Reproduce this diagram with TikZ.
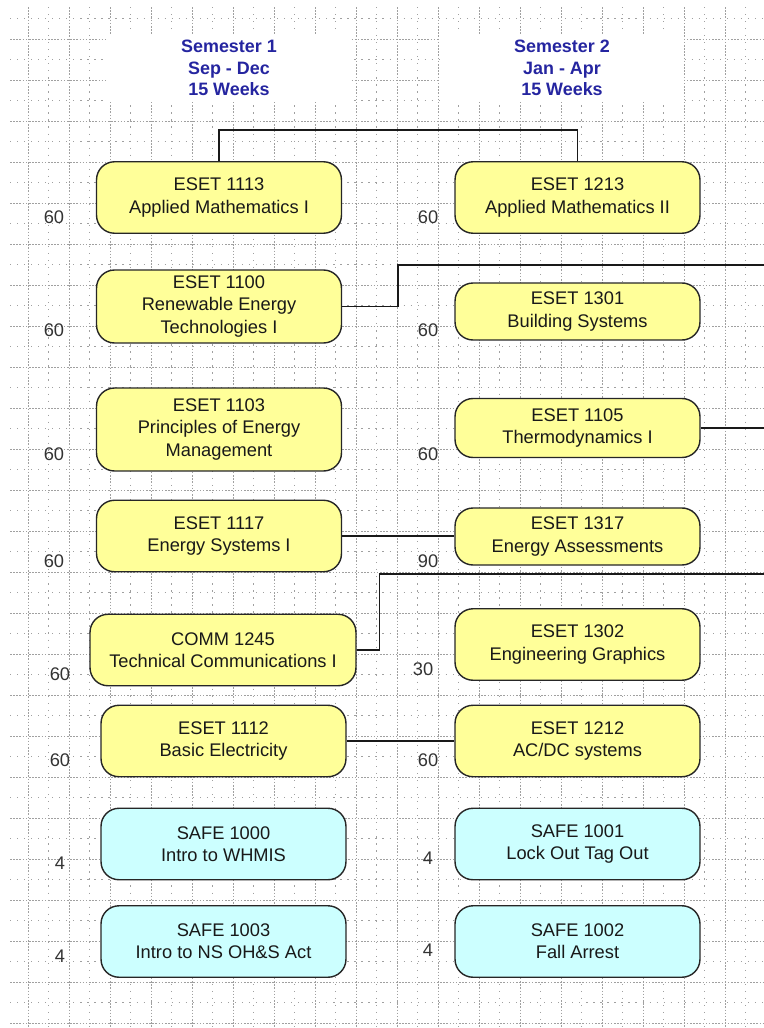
\documentclass[tikz,border=0pt]{standalone}
\usepackage{fontspec}
\setmainfont{Liberation Sans}
\usepackage{xcolor}
\usepackage{tikz}

\begin{document}
\begin{tikzpicture}[x=0.02cm, y=-0.02cm]
  % Colour definitions
  \definecolor{CourseFill}{HTML}{FFFF99}   % pale yellow, regular courses
  \definecolor{SafeFill}{HTML}{CCFFFF}     % pale cyan, safety courses
  \definecolor{BoxBdr}{HTML}{262626}
  \definecolor{SemBlue}{HTML}{2525A0}
  \definecolor{GridGray}{HTML}{A0A0A0}

  \tikzstyle{course} = [draw=BoxBdr, fill=CourseFill, rounded corners=0.36cm,
    minimum width=4.9cm, minimum height=1.43cm, align=center, inner sep=0pt,
    text=black!90, font=\fontsize{10.4}{12.6}\selectfont, line width=0.8pt]
  \tikzstyle{safety} = [course, fill=SafeFill]
  \tikzstyle{hours} = [font=\fontsize{10.4}{12.6}\selectfont, text=black!80]
  \tikzstyle{semester} = [fill=white, minimum width=4.9cm, minimum height=1.14cm,
    align=center, font=\fontsize{10.2}{12.2}\selectfont\bfseries, text=SemBlue]
  \tikzstyle{link} = [draw=black!90, line width=0.9pt]
  \tikzstyle{gridmajor} = [GridGray, line width=0.5pt, dash pattern=on 0.9pt off 0.9pt]
  \tikzstyle{gridminor} = [GridGray, line width=0.5pt, dash pattern=on 0.7pt off 3.3pt]

  \useasboundingbox (0,0) rectangle (764,1028);

  % Background grid (drawn first, behind everything)
  \foreach \gk in {1,...,18}
    \draw[gridminor] ({7.5+41*\gk},7) -- ({7.5+41*\gk},1028);
  \foreach \gk in {0,...,24}
    \draw[gridminor] (10,{18.5+41*\gk}) -- (764,{18.5+41*\gk});
  \foreach \gk in {0,...,18}
    \draw[gridmajor] ({28+41*\gk},7) -- ({28+41*\gk},1028);
  \foreach \gk in {0,...,24}
    \draw[gridmajor] (10,{39+41*\gk}) -- (764,{39+41*\gk});

  % Semester headings
  \node[semester] (sem1) at (229,68) {Semester 1\\Sep - Dec\\15 Weeks};
  \node[semester] (sem2) at (562,68) {Semester 2\\Jan - Apr\\15 Weeks};

  % Semester 1 courses
  \node[course] (c1113) at (219,197.5) {ESET 1113\\Applied Mathematics I};
  \node[course, minimum height=1.46cm] (c1100) at (219,306.5)
    {ESET 1100\\Renewable Energy\\Technologies I};
  \node[course, minimum height=1.66cm] (c1103) at (219,429.5)
    {ESET 1103\\Principles of Energy\\Management};
  \node[course] (c1117) at (219,536) {ESET 1117\\Energy Systems I};
  \node[course, minimum width=5.32cm] (c1245) at (223,650)
    {COMM 1245\\Technical Communications I};
  \node[course] (c1112) at (223.5,741) {ESET 1112\\Basic Electricity};
  \node[safety] (s1000) at (223.5,844) {SAFE 1000\\Intro to WHMIS};
  \node[safety] (s1003) at (223.5,941.5) {SAFE 1003\\Intro to NS OH\&S Act};

  % Semester 2 courses
  \node[course] (c1213) at (577.5,197.5) {ESET 1213\\Applied Mathematics II};
  \node[course, minimum height=1.14cm] (c1301) at (577.5,311.5) {ESET 1301\\Building Systems};
  \node[course, minimum height=1.18cm] (c1105) at (577.5,428) {ESET 1105\\Thermodynamics I};
  \node[course, minimum height=1.14cm] (c1317) at (577.5,536.5) {ESET 1317\\Energy Assessments};
  \node[course] (c1302) at (577.5,644.5) {ESET 1302\\Engineering Graphics};
  \node[course] (c1212) at (577.5,741) {ESET 1212\\AC/DC systems};
  \node[safety] (s1001) at (577.5,844) {SAFE 1001\\Lock Out Tag Out};
  \node[safety] (s1002) at (577.5,941.5) {SAFE 1002\\Fall Arrest};

  % Contact hours
  \node[hours] (h1113) at (54,217) {60};
  \node[hours] (h1100) at (54,330) {60};
  \node[hours] (h1103) at (54,454) {60};
  \node[hours] (h1117) at (54,561) {60};
  \node[hours] (h1245) at (60,674) {60};
  \node[hours] (h1112) at (60,760) {60};
  \node[hours] (h1000) at (60,863) {4};
  \node[hours] (h1003) at (60,956) {4};
  \node[hours] (h1213) at (428,217) {60};
  \node[hours] (h1301) at (428,330) {60};
  \node[hours] (h1105) at (428,454) {60};
  \node[hours] (h1317) at (428,561) {90};
  \node[hours] (h1302) at (423,669) {30};
  \node[hours] (h1212) at (428,760) {60};
  \node[hours] (h1001) at (428,858) {4};
  \node[hours] (h1002) at (428,950) {4};

  % Prerequisite links (some run on past the right edge)
  \coordinate (out1100) at (764,265);
  \coordinate (out1105) at (764,428);
  \coordinate (out1245) at (764,574);

  \draw[link] (c1113.north) -- ++(0,-31) -| (c1213.north);
  \draw[link] (c1100.east) -- ++(56,0) |- (out1100);
  \draw[link] (c1105.east) -- (out1105);
  \draw[link] (c1117.east) -- (c1317.west |- c1117.east);
  \draw[link] (c1245.east) -- ++(23,0) |- (out1245);
  \draw[link] (c1112.east) -- (c1212.west);
\end{tikzpicture}
\end{document}
